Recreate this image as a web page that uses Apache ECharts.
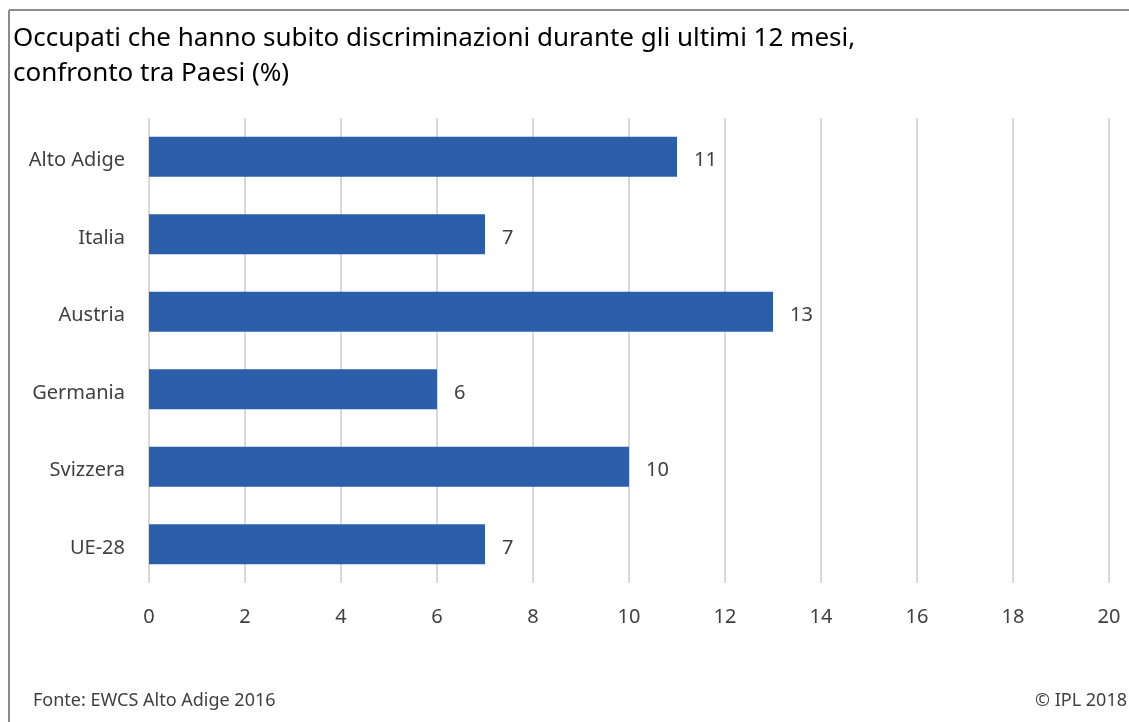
<!DOCTYPE html>
<html><head><meta charset="utf-8">
<script src="https://cdn.jsdelivr.net/npm/echarts@6/dist/echarts.min.js"></script>
<style>html,body{margin:0;padding:0;background:#fff}#c{width:1129px;height:722px}</style>
</head><body><div id="c"></div>
<script>
const categories = ["Alto Adige", "Italia", "Austria", "Germania", "Svizzera", "UE-28"];
const values = [11, 7, 13, 6, 10, 7];
const xTicks = [0, 2, 4, 6, 8, 10, 12, 14, 16, 18, 20];
const titleLines = ["Occupati che hanno subito discriminazioni durante gli ultimi 12 mesi,", "confronto tra Paesi (%)"];
const sourceText = "Fonte: EWCS Alto Adige 2016";
const copyrightText = "© IPL 2018";

const FONT = "'Noto Sans', sans-serif";
const chart = echarts.init(document.getElementById('c'), null, {renderer: 'canvas'});
chart.setOption({
  animation: false,
  backgroundColor: '#fff',
  grid: {left: 149, right: 20, top: 118, bottom: 139, containLabel: false},
  xAxis: {
    type: 'value', min: xTicks[0], max: xTicks[xTicks.length - 1], interval: 2,
    axisLine: {show: false}, axisTick: {show: false},
    splitLine: {show: true, lineStyle: {color: '#d9d9d9', width: 2}},
    axisLabel: {margin: 24, fontSize: 20, color: '#404040', fontFamily: FONT}
  },
  yAxis: {
    type: 'category', data: categories, inverse: true,
    axisLine: {show: false}, axisTick: {show: false},
    axisLabel: {
      margin: 24, fontSize: 20, color: '#404040', fontFamily: FONT,
      formatter: '{a|{value}}',
      rich: {a: {fontSize: 20, color: '#404040', fontFamily: FONT, padding: [8, 0, 0, 0]}}
    }
  },
  series: [{
    type: 'bar', data: values, barWidth: 40,
    itemStyle: {color: '#2B5EAB'},
    label: {show: true, position: 'right', distance: 17, offset: [0, 4], fontSize: 20, color: '#404040', fontFamily: FONT}
  }],
  graphic: [
    {type: 'line', shape: {x1: 9, y1: 10, x2: 1129, y2: 10}, style: {stroke: '#8c8c8c', lineWidth: 2}},
    {type: 'line', shape: {x1: 9, y1: 10, x2: 9, y2: 722}, style: {stroke: '#8c8c8c', lineWidth: 2}},
    {type: 'text', left: 13, top: 21, style: {text: titleLines.join('\n'), font: "26px " + FONT, fill: '#000', lineHeight: 35}},
    {type: 'text', left: 33, top: 692, style: {text: sourceText, font: "18px " + FONT, fill: '#404040'}},
    {type: 'text', right: 2, top: 692, style: {text: copyrightText, font: "18px " + FONT, fill: '#404040'}}
  ]
});
</script></body></html>
